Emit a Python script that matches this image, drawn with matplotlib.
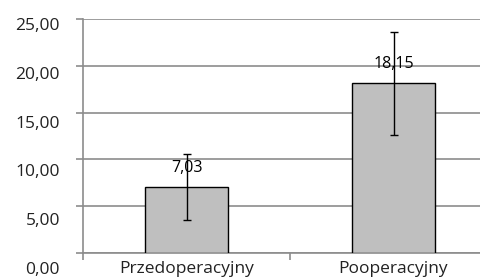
import matplotlib
matplotlib.use('Agg')
from matplotlib import pyplot as plt
from matplotlib.transforms import ScaledTranslation

## Data ##
categories = ['Przedoperacyjny', 'Pooperacyjny']
values = [7.03, 18.15]
errors = [3.5, 5.5]
value_labels = ['7,03', '18,15']
y_ticks = [0, 5, 10, 15, 20, 25]
y_tick_labels = ['0,00', '5,00', '10,00', '15,00', '20,00', '25,00']

plt.rcParams['font.family'] = ['Open Sans', 'DejaVu Sans']
grey = '#8c8c8c'

## Plotting ##
fig = plt.figure(figsize=(4.8, 2.8), dpi=100)
# axes runs a bit past the right edge, like the cropped original
ax = fig.add_axes([83 / 480, 27 / 280, 414 / 480, 234 / 280])

x = list(range(len(categories)))
ax.bar(x, values, width=0.405, color='#bfbfbf', edgecolor='black', linewidth=1, zorder=3)
ax.errorbar(x, values, yerr=errors, fmt='none', ecolor='black', elinewidth=1,
            capsize=3, capthick=1, zorder=4)

for xi, v, lab in zip(x, values, value_labels):
    ax.annotate(lab, (xi, v), xytext=(0, 14), textcoords='offset points',
                ha='center', va='center', fontsize=11.5, color='black', zorder=5)

ax.set_xlim(-0.5, 1.5)
ax.set_ylim(0, 25)
ax.set_yticks(y_ticks)
ax.set_yticklabels([])
ax.yaxis.grid(True, color=grey, linewidth=1.2)
ax.set_axisbelow(True)

# y labels drawn as text, slightly drifting down like the original
ytrans = ax.get_yaxis_transform()
for v, lab in zip(y_ticks, y_tick_labels):
    off = ScaledTranslation(0, -(17 - 0.4 * v) / 100, fig.dpi_scale_trans)
    ax.text(-23 / 414, v, lab, transform=ytrans + off, ha='right', va='center',
            fontsize=12.5, color='#222222')

ax.set_xticks([-0.5, 0.5, 1.5], minor=True)
ax.set_xticks(x)
ax.set_xticklabels(categories, fontsize=12.5, color='#222222')
ax.tick_params(axis='x', which='major', length=0, pad=6)
ax.tick_params(axis='x', which='minor', length=5, color=grey, width=1.2, direction='out')
ax.tick_params(axis='y', length=5, color=grey, width=1.2, direction='out')

for s in ['top', 'right']:
    ax.spines[s].set_visible(False)
for s in ['left', 'bottom']:
    ax.spines[s].set_color(grey)
    ax.spines[s].set_linewidth(1.2)

fig.savefig('out.png', dpi=100)
